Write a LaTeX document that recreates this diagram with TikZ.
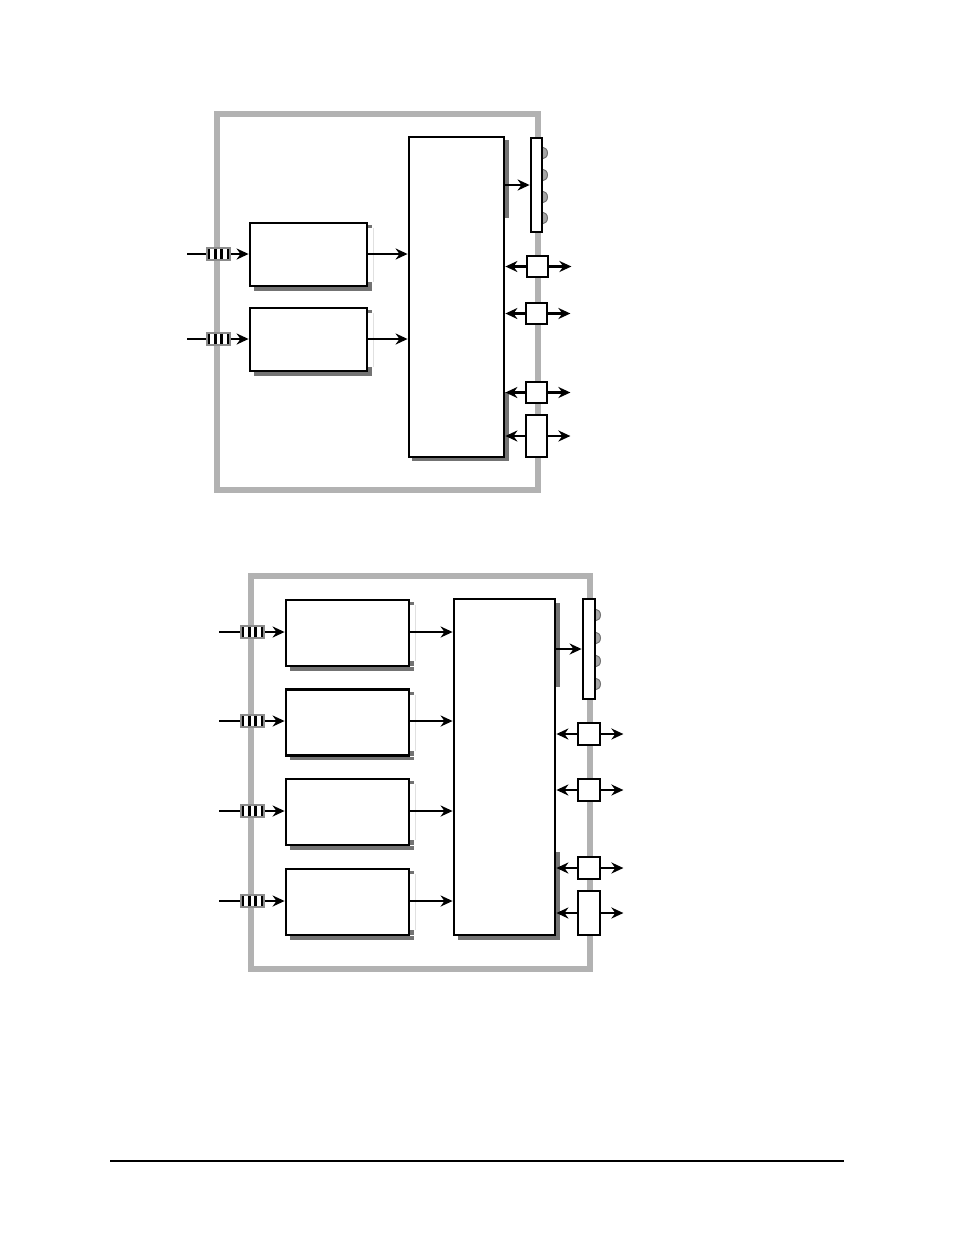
\documentclass[tikz,border=0pt]{standalone}
\usetikzlibrary{arrows.meta,calc}
\begin{document}
\begin{tikzpicture}[x=1pt,y=-1pt,
  frame/.style={draw=black!30,line width=5.5},
  blk/.style={draw=black,line width=2.8,fill=white,inner sep=0,rectangle},
  shad/.style={fill=black!55},
  lshad/.style={draw=black!12,line width=1},
  arr/.style={line width=2.6,-{Stealth[length=12pt,width=11pt]}},
  ln/.style={line width=2.6},
  bump/.style={fill=black!35,draw=black!55,line width=1},
  conn/.style={draw=black!45,line width=2.4,fill=white,minimum width=23,minimum height=12,inner sep=0,rectangle,
    path picture={\foreach \i in {0,2,4,6}{\fill[black] ($(path picture bounding box.south west)!{\i/7}!(path picture bounding box.south east)$) rectangle ($(path picture bounding box.north west)!{(\i+1)/7}!(path picture bounding box.north east)$);}}}
]
\useasboundingbox (0,0) rectangle (954,1235);
% ================= TOP DIAGRAM =================
\draw[frame] (217,114) rectangle (538,490);
% big box shadows
\fill[shad] (505,140) rectangle (509,218);
\fill[shad] (505,392) rectangle (509,461);
\fill[shad] (412,458) rectangle (509,461);
\node[blk,minimum width=95,minimum height=320] (tbig) at (456.5,297) {};
% blocks
\foreach \n/\y in {1/254.5,2/339.5}{
  \fill[shad] (254,\y+32.5) rectangle (372,\y+36);
  \fill[shad] (368,\y-30) rectangle (372,\y-27);
  \fill[shad] (368,\y+27) rectangle (372,\y+32);
  \draw[lshad] (373,\y-27) -- (373,\y+27);
  \node[blk,minimum width=117,minimum height=63] (tb\n) at (308.5,\y) {};
}
\node[conn] (tc1) at (218.5,254) {};
\node[conn] (tc2) at (218.5,339) {};
\coordinate (tin1) at (187,254);
\coordinate (tin2) at (187,339);
\draw[ln] (tin1) -- (tc1.west);
\draw[ln] (tin2) -- (tc2.west);
\draw[arr] (tc1.east) -- (tc1.east -| tb1.west);
\draw[arr] (tc2.east) -- (tc2.east -| tb2.west);
\draw[arr] (tc1.east -| tb1.east) -- (tc1.east -| tbig.west);
\draw[arr] (tc2.east -| tb2.east) -- (tc2.east -| tbig.west);
% strip with bumps
\foreach \y in {153,175,197,218}{
  \draw[bump] (542,\y-6) arc (-90:90:5.5 and 6) -- cycle;
}
\node[blk,minimum width=11,minimum height=94] (tstrip) at (536.5,185) {};
\draw[arr] (tbig.east |- tstrip.west) -- (tstrip.west);
% small boxes
\node[blk,minimum width=21,minimum height=21] (ts1) at (537.5,266.5) {};
\node[blk,minimum width=21,minimum height=21] (ts2) at (536.5,313.5) {};
\node[blk,minimum width=21,minimum height=21] (ts3) at (536.5,392.5) {};
\node[blk,minimum width=21,minimum height=42] (ts4) at (536.5,436) {};
\foreach \s in {ts1,ts2,ts3,ts4}{
  \draw[arr] (\s.west) -- (\s.west -| tbig.east);
  \coordinate (\s o) at ($(\s.east)+(22,0)$);
  \draw[arr] (\s.east) -- (\s o);
}
% ================= BOTTOM DIAGRAM =================
\draw[frame] (251,576) rectangle (590,969);
\fill[shad] (556,603) rectangle (560,687);
\fill[shad] (556,852) rectangle (560,940);
\fill[shad] (458,936) rectangle (560,940);
\node[blk,minimum width=101,minimum height=336] (bbig) at (504.5,767) {};
\foreach \n/\y/\cy in {1/633/632,2/722.5/721,3/812/811,4/902/901}{
  \fill[shad] (290,\y+34) rectangle (414,\y+37.5);
  \fill[shad] (410,\y-31) rectangle (414,\y-28);
  \fill[shad] (410,\y+28) rectangle (414,\y+33);
  \draw[lshad] (415,\y-28) -- (415,\y+28);
  \node[blk,minimum width=123,minimum height=66] (bb\n) at (347.5,\y) {};
  \node[conn] (bc\n) at (252.5,\cy) {};
  \coordinate (bin\n) at (219,\cy);
  \draw[ln] (bin\n) -- (bc\n.west);
  \draw[arr] (bc\n.east) -- (bc\n.east -| bb\n.west);
  \draw[arr] (bc\n.east -| bb\n.east) -- (bc\n.east -| bbig.west);
}
\foreach \y in {615,638,661,684}{
  \draw[bump] (595,\y-6) arc (-90:90:5.5 and 6) -- cycle;
}
\node[blk,minimum width=12,minimum height=100] (bstrip) at (589,649) {};
\draw[arr] (bbig.east |- bstrip.west) -- (bstrip.west);
\node[blk,minimum width=22,minimum height=22] (bs1) at (589,734) {};
\node[blk,minimum width=22,minimum height=22] (bs2) at (589,790) {};
\node[blk,minimum width=22,minimum height=22] (bs3) at (589,868) {};
\node[blk,minimum width=22,minimum height=44] (bs4) at (589,913) {};
\foreach \s in {bs1,bs2,bs3,bs4}{
  \draw[arr] (\s.west) -- (\s.west -| bbig.east);
  \coordinate (\s o) at ($(\s.east)+(22,0)$);
  \draw[arr] (\s.east) -- (\s o);
}
% footer rule
\coordinate (fl) at (110,1161);
\coordinate (fr) at (844,1161);
\draw[line width=1.2] (fl) -- (fr);
\end{tikzpicture}
\end{document}
